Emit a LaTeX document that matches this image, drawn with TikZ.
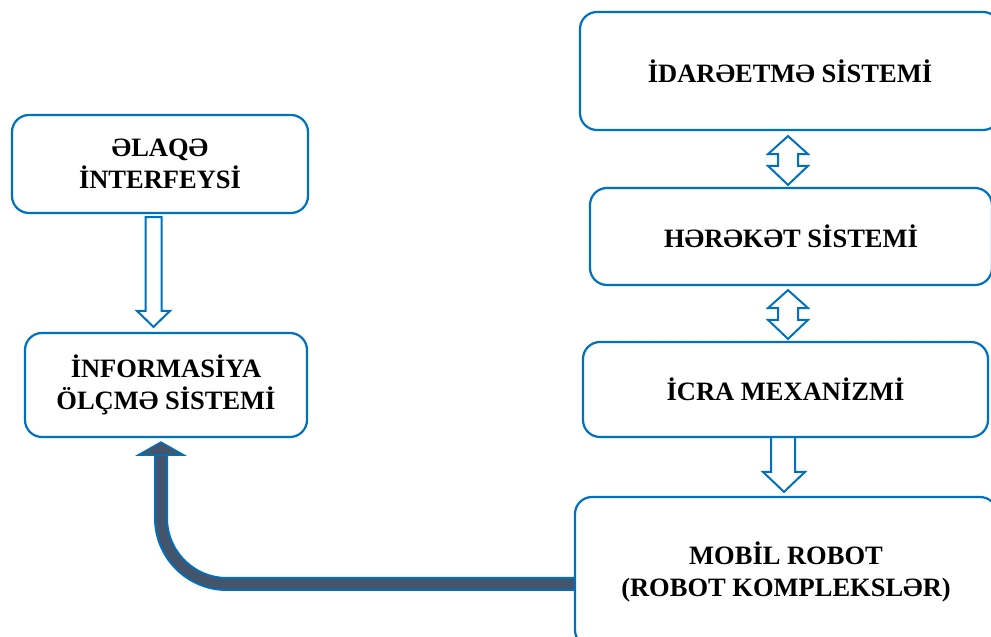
\documentclass[tikz,border=0pt]{standalone}
\usepackage{fontspec}
\setmainfont{Liberation Serif}
\usetikzlibrary{calc}
\definecolor{bblue}{HTML}{0070C0}
\definecolor{slate}{HTML}{44546A}
\begin{document}
\begin{tikzpicture}[x=1pt,y=1pt,
  box/.style={draw=bblue, line width=2.2pt, rounded corners=17pt, fill=white,
    align=center, font=\bfseries\fontsize{26.5}{32}\selectfont, inner sep=0pt},
  hollow/.style={draw=bblue, line width=2pt, fill=white, line join=miter}]
\useasboundingbox (0,0) rectangle (991,637);
% boxes
\node[box, minimum width=420, minimum height=118] (idare) at (790,566) {İDARƏETMƏ SİSTEMİ};
\node[box, minimum width=402, minimum height=97] (hareket) at (791,400.5) {HƏRƏKƏT SİSTEMİ};
\node[box, minimum width=405, minimum height=95] (icra) at (785.5,247.5) {İCRA MEXANİZMİ};
\node[box, minimum width=422, minimum height=150] (mobil) at (786,65) {MOBİL ROBOT\\(ROBOT KOMPLEKSLƏR)};
\node[box, minimum width=296, minimum height=98] (elaqe) at (160,473) {ƏLAQƏ\\İNTERFEYSİ};
\node[box, minimum width=282, minimum height=104] (info) at (166,252) {İNFORMASİYA\\ÖLÇMƏ SİSTEMİ};
% down arrow elaqe -> info
\draw[hollow] let \p1=(elaqe.south), \p2=(info.north) in
  (145.5,\y1-3) -- (161.5,\y1-3) -- (161.5,\y2+21) -- (170,\y2+21) -- (153.5,\y2+5)
  -- (137,\y2+21) -- (145.5,\y2+21) -- cycle;
% double arrow idare <-> hareket
\draw[hollow] let \p1=(idare.south), \p2=(hareket.north) in
  (788,\y1-5) -- (808,\y1-23) -- (798,\y1-23) -- (798,\y2+21) -- (808,\y2+21)
  -- (788,\y2+2) -- (768,\y2+21) -- (778,\y2+21) -- (778,\y1-23) -- (768,\y1-23) -- cycle;
% double arrow hareket <-> icra
\draw[hollow] let \p1=(hareket.south), \p2=(icra.north) in
  (788,\y1-4) -- (808,\y1-22) -- (798,\y1-22) -- (798,\y2+21) -- (808,\y2+21)
  -- (788,\y2+2) -- (768,\y2+21) -- (778,\y2+21) -- (778,\y1-22) -- (768,\y1-22) -- cycle;
% down arrow icra -> mobil
\draw[hollow] let \p1=(icra.south), \p2=(mobil.north) in
  (771,\y1+1) -- (795,\y1+1) -- (795,\y2+24) -- (805,\y2+24) -- (784,\y2+4)
  -- (763,\y2+24) -- (771,\y2+24) -- cycle;
% thick feedback arrow mobil -> info
\coordinate (fbstart) at ($(mobil.west)+(0,-12)$);
\coordinate (fbend) at ($(info.south)+(-5,-17)$);
\draw[bblue, line width=14pt] (fbstart) -- (227,53) arc[start angle=-90, end angle=-180, radius=66] -- (fbend);
\draw[slate, line width=10pt] (fbstart) -- (227,53) arc[start angle=-90, end angle=-180, radius=66] -- (fbend);
\draw[bblue, fill=slate, line width=1.5pt, line join=miter]
  ($(fbend)+(-23,0)$) -- ($(fbend)+(23,0)$) -- ($(info.south)+(-5,-4)$) -- cycle;
\end{tikzpicture}
\end{document}
